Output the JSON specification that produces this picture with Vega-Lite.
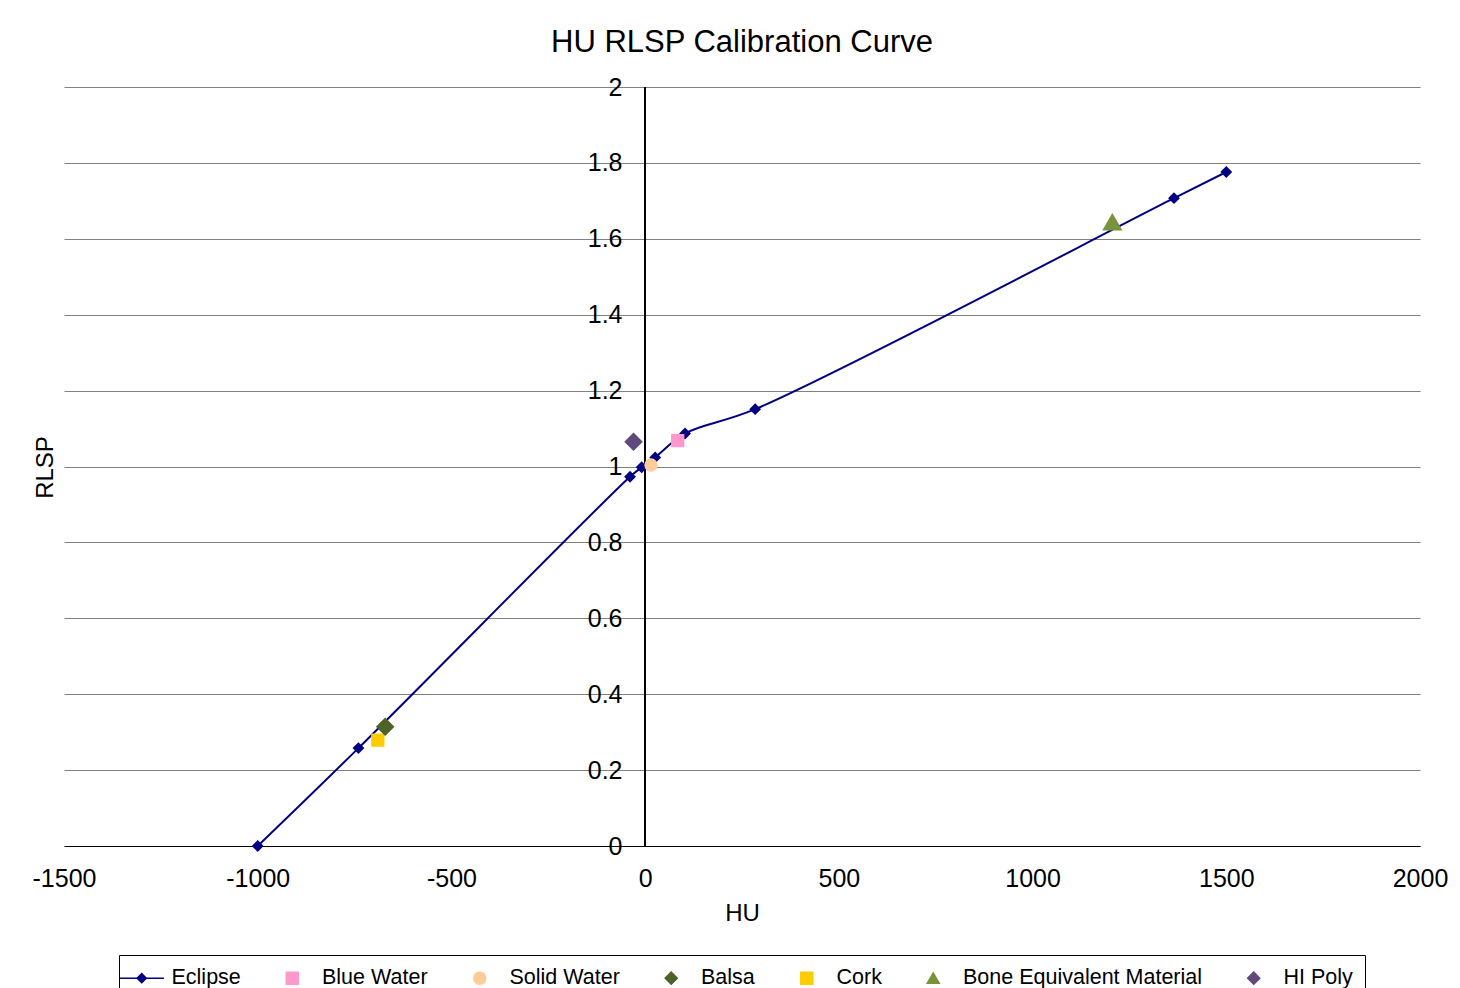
{
  "$schema": "https://vega.github.io/schema/vega-lite/v6.json",
  "width": 1356,
  "height": 759,
  "autosize": {"type": "none"},
  "padding": {"left": 64, "top": 87, "right": 40, "bottom": 142},
  "background": "white",
  "config": {"font": "Liberation Sans", "view": {"stroke": null}},
  "title": {
    "text": "HU RLSP Calibration Curve",
    "fontSize": 31,
    "fontWeight": "normal",
    "font": "Liberation Sans",
    "color": "black",
    "anchor": "middle",
    "frame": "group",
    "baseline": "alphabetic",
    "offset": 22,
    "dy": 30
  },
  "data": {
    "values": [
      {"series": "Eclipse", "hu": -1000, "rlsp": 0},
      {"series": "Eclipse", "hu": -740, "rlsp": 0.258},
      {"series": "Eclipse", "hu": -39, "rlsp": 0.973},
      {"series": "Eclipse", "hu": -9, "rlsp": 0.998},
      {"series": "Eclipse", "hu": 26, "rlsp": 1.024},
      {"series": "Eclipse", "hu": 103, "rlsp": 1.087},
      {"series": "Eclipse", "hu": 284, "rlsp": 1.151},
      {"series": "Eclipse", "hu": 1365, "rlsp": 1.707},
      {"series": "Eclipse", "hu": 1500, "rlsp": 1.776},
      {"series": "Blue Water", "hu": 84, "rlsp": 1.068},
      {"series": "Solid Water", "hu": 15, "rlsp": 1.004},
      {"series": "Balsa", "hu": -671, "rlsp": 0.314},
      {"series": "Cork", "hu": -690, "rlsp": 0.279},
      {"series": "Bone Equivalent Material", "hu": 1206, "rlsp": 1.644},
      {"series": "HI Poly", "hu": -30, "rlsp": 1.065}
    ]
  },
  "encoding": {
    "x": {
      "field": "hu",
      "type": "quantitative",
      "title": "HU",
      "scale": {"domain": [-1500, 2000], "nice": false, "zero": false},
      "axis": {
        "values": [-1500, -1000, -500, 0, 500, 1000, 1500, 2000],
        "labelExpr": "'' + datum.value",
        "labelFontSize": 25,
        "labelColor": "black",
        "labelPadding": 20,
        "labelFlush": false,
        "labelOverlap": false,
        "ticks": false,
        "grid": false,
        "domainColor": "black",
        "domainWidth": 1,
        "titleFontSize": 24,
        "titleFontWeight": "normal",
        "titleColor": "black",
        "titleY": 67,
        "titleBaseline": "middle"
      }
    },
    "y": {
      "field": "rlsp",
      "type": "quantitative",
      "title": "RLSP",
      "scale": {"domain": [0, 2], "nice": false},
      "axis": {
        "values": [0, 0.2, 0.4, 0.6, 0.8, 1, 1.2, 1.4, 1.6, 1.8, 2],
        "format": "~g",
        "labelFontSize": 25,
        "labelColor": "black",
        "labelPadding": -558,
        "labelBaseline": "middle",
        "labelFlush": false,
        "labelOverlap": false,
        "ticks": false,
        "domain": false,
        "grid": true,
        "gridColor": "#808080",
        "gridWidth": 1,
        "gridOpacity": 1,
        "titleFontSize": 24,
        "titleFontWeight": "normal",
        "titleColor": "black",
        "titleX": -19,
        "titleY": 380,
        "titleAlign": "center",
        "titleBaseline": "middle",
        "titleAngle": -90
      }
    }
  },
  "layer": [
    {
      "mark": {"type": "rule", "color": "black", "strokeWidth": 1},
      "encoding": {"x": {"datum": 0, "type": "quantitative"}, "y": null}
    },
    {
      "transform": [{"filter": "datum.series === 'Eclipse'"}],
      "mark": {"type": "line", "interpolate": "catmull-rom", "color": "#000080", "strokeWidth": 2},
      "encoding": {"order": {"field": "hu"}}
    },
    {
      "transform": [{"filter": "datum.series === 'Eclipse'"}],
      "mark": {"type": "point", "filled": true, "opacity": 1, "shape": "diamond", "size": 140, "color": "#000080"}
    },
    {
      "transform": [{"filter": "datum.series === 'Blue Water' || datum.series === 'Cork' || datum.series === 'Solid Water'"}],
      "mark": {"type": "point", "filled": true, "opacity": 1, "size": 140, "strokeWidth": 1.5},
      "encoding": {
        "fill": {"field": "series", "type": "nominal", "scale": {"domain": ["Eclipse", "Blue Water", "Solid Water", "Balsa", "Cork", "Bone Equivalent Material", "HI Poly"], "range": ["#000080", "#FF99CC", "#FFCC99", "#4F6228", "#FFCC00", "#77933C", "#604A7B"]}, "legend": {"title": null, "orient": "none", "legendX": 55, "legendY": 868, "direction": "horizontal", "labelFontSize": 21.5, "labelFont": "Liberation Sans", "labelColor": "black", "labelLimit": 400, "symbolSize": 144, "symbolStrokeWidth": 1.5, "labelOffset": 19, "columnPadding": 40.5, "padding": 12, "strokeColor": "black"}},
        "stroke": {"field": "series", "type": "nominal", "scale": {"domain": ["Eclipse", "Blue Water", "Solid Water", "Balsa", "Cork", "Bone Equivalent Material", "HI Poly"], "range": ["#000080", "#FF99CC", "#FFCC99", "#4F6228", "#FFCC00", "#77933C", "#604A7B"]}, "legend": {"title": null, "orient": "none", "legendX": 55, "legendY": 868, "direction": "horizontal", "labelFontSize": 21.5, "labelFont": "Liberation Sans", "labelColor": "black", "labelLimit": 400, "symbolSize": 144, "symbolStrokeWidth": 1.5, "labelOffset": 19, "columnPadding": 40.5, "padding": 12, "strokeColor": "black"}},
        "shape": {"field": "series", "type": "nominal", "scale": {"domain": ["Eclipse", "Blue Water", "Solid Water", "Balsa", "Cork", "Bone Equivalent Material", "HI Poly"], "range": ["M-3.7,0L3.7,0M-0.75,0L0,-0.75L0.75,0L0,0.75Z", "square", "circle", "diamond", "square", "triangle-up", "diamond"]}, "legend": {"title": null, "orient": "none", "legendX": 55, "legendY": 868, "direction": "horizontal", "labelFontSize": 21.5, "labelFont": "Liberation Sans", "labelColor": "black", "labelLimit": 400, "symbolSize": 144, "symbolStrokeWidth": 1.5, "labelOffset": 19, "columnPadding": 40.5, "padding": 12, "strokeColor": "black"}}
      }
    },
    {
      "transform": [{"filter": "datum.series === 'Balsa' || datum.series === 'HI Poly'"}],
      "mark": {"type": "point", "filled": true, "opacity": 1, "size": 270, "strokeWidth": 1.5},
      "encoding": {
        "fill": {"field": "series", "type": "nominal"},
        "stroke": {"field": "series", "type": "nominal"},
        "shape": {"field": "series", "type": "nominal"}
      }
    },
    {
      "transform": [{"filter": "datum.series === 'Bone Equivalent Material'"}],
      "mark": {"type": "point", "filled": true, "opacity": 1, "size": 310, "strokeWidth": 1.5},
      "encoding": {
        "fill": {"field": "series", "type": "nominal"},
        "stroke": {"field": "series", "type": "nominal"},
        "shape": {"field": "series", "type": "nominal"}
      }
    }
  ]
}
